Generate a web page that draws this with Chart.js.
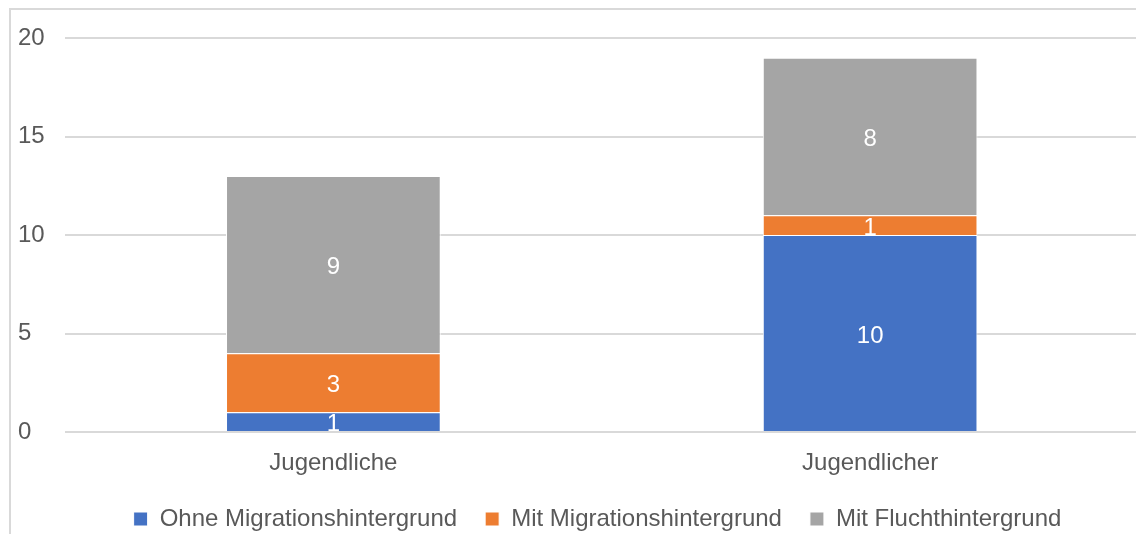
<!DOCTYPE html>
<html>
<head>
<meta charset="utf-8">
<script src="https://cdn.jsdelivr.net/npm/chart.js@4/dist/chart.umd.min.js"></script>
<style>
  html, body { margin: 0; padding: 0; background: #ffffff; overflow: hidden; }
  .frame {
    position: absolute; left: 9px; top: 8px;
    border: 2px solid #d9d9d9;
    width: 1166px; height: 541px;
  }
  canvas { display: block; }
</style>
</head>
<body>
<div class="frame"><canvas id="chart" width="1166" height="541"></canvas></div>
<script>
(function () {
    'use strict';

    // ── Data ────────────────────────────────────────────────────
    const CATEGORIES = ['Jugendliche', 'Jugendlicher'];
    const SERIES_NAMES = ['Ohne Migrationshintergrund', 'Mit Migrationshintergrund', 'Mit Fluchthintergrund'];
    const OHNE_MIGRATION = [1, 10];
    const MIT_MIGRATION = [3, 1];
    const MIT_FLUCHT = [9, 8];
    const Y_TICKS = [0, 5, 10, 15, 20];

    const COLORS = ['#4472c4', '#ed7d31', '#a5a5a5'];
    const TEXT = '#595959';
    const GRID = '#d9d9d9';
    const FONT = 'Liberation Sans, Arial, sans-serif';

    // white value labels centred in each stacked segment
    const segmentLabels = {
        id: 'segmentLabels',
        afterDatasetsDraw(chart) {
            const ctx = chart.ctx;
            ctx.save();
            ctx.fillStyle = '#ffffff';
            ctx.font = '24px ' + FONT;
            ctx.textAlign = 'center';
            ctx.textBaseline = 'middle';
            chart.data.datasets.forEach((ds, i) => {
                const meta = chart.getDatasetMeta(i);
                meta.data.forEach((bar, j) => {
                    const v = ds.data[j];
                    if (!v) return;
                    ctx.fillText(String(v), bar.x, (bar.y + bar.base) / 2 + 3);
                });
            });
            ctx.restore();
        }
    };

    new Chart(document.getElementById('chart'), {
        type: 'bar',
        data: {
            labels: CATEGORIES,
            datasets: [OHNE_MIGRATION, MIT_MIGRATION, MIT_FLUCHT].map((vals, i) => ({
                label: SERIES_NAMES[i],
                data: vals,
                backgroundColor: COLORS[i],
                borderColor: '#ffffff',
                borderWidth: 1,
                barPercentage: 0.4,
                categoryPercentage: 1.0,
            })),
        },
        options: {
            responsive: false,
            devicePixelRatio: 1,
            animation: false,
            layout: { padding: { left: 7, right: 0, top: 28, bottom: 10 } },
            plugins: {
                tooltip: { enabled: false },
                legend: {
                    position: 'bottom',
                    labels: {
                        color: TEXT,
                        font: { family: FONT, size: 24 },
                        boxWidth: 14,
                        boxHeight: 14,
                        padding: 28,
                    },
                },
            },
            scales: {
                x: {
                    stacked: true,
                    grid: { display: false },
                    border: { display: false },
                    ticks: { color: TEXT, font: { family: FONT, size: 24 }, padding: 9 },
                    afterFit(s) { s.height = 47; },
                },
                y: {
                    stacked: true,
                    min: Y_TICKS[0],
                    max: Y_TICKS[Y_TICKS.length - 1],
                    border: { display: false },
                    grid: { color: GRID, lineWidth: 2, drawTicks: false },
                    ticks: {
                        stepSize: Y_TICKS[1] - Y_TICKS[0],
                        color: TEXT,
                        font: { family: FONT, size: 24 },
                        crossAlign: 'far',
                    },
                    afterFit(s) { s.width = 47; },
                },
                // empty spacer on the right so the legend centres on the full width
                spacer: {
                    type: 'linear',
                    position: 'right',
                    display: true,
                    grid: { display: false },
                    border: { display: false },
                    ticks: { display: false },
                    afterFit(s) { s.width = 38.5; },
                },
            },
        },
        plugins: [segmentLabels],
    });
})();
</script>
</body>
</html>
